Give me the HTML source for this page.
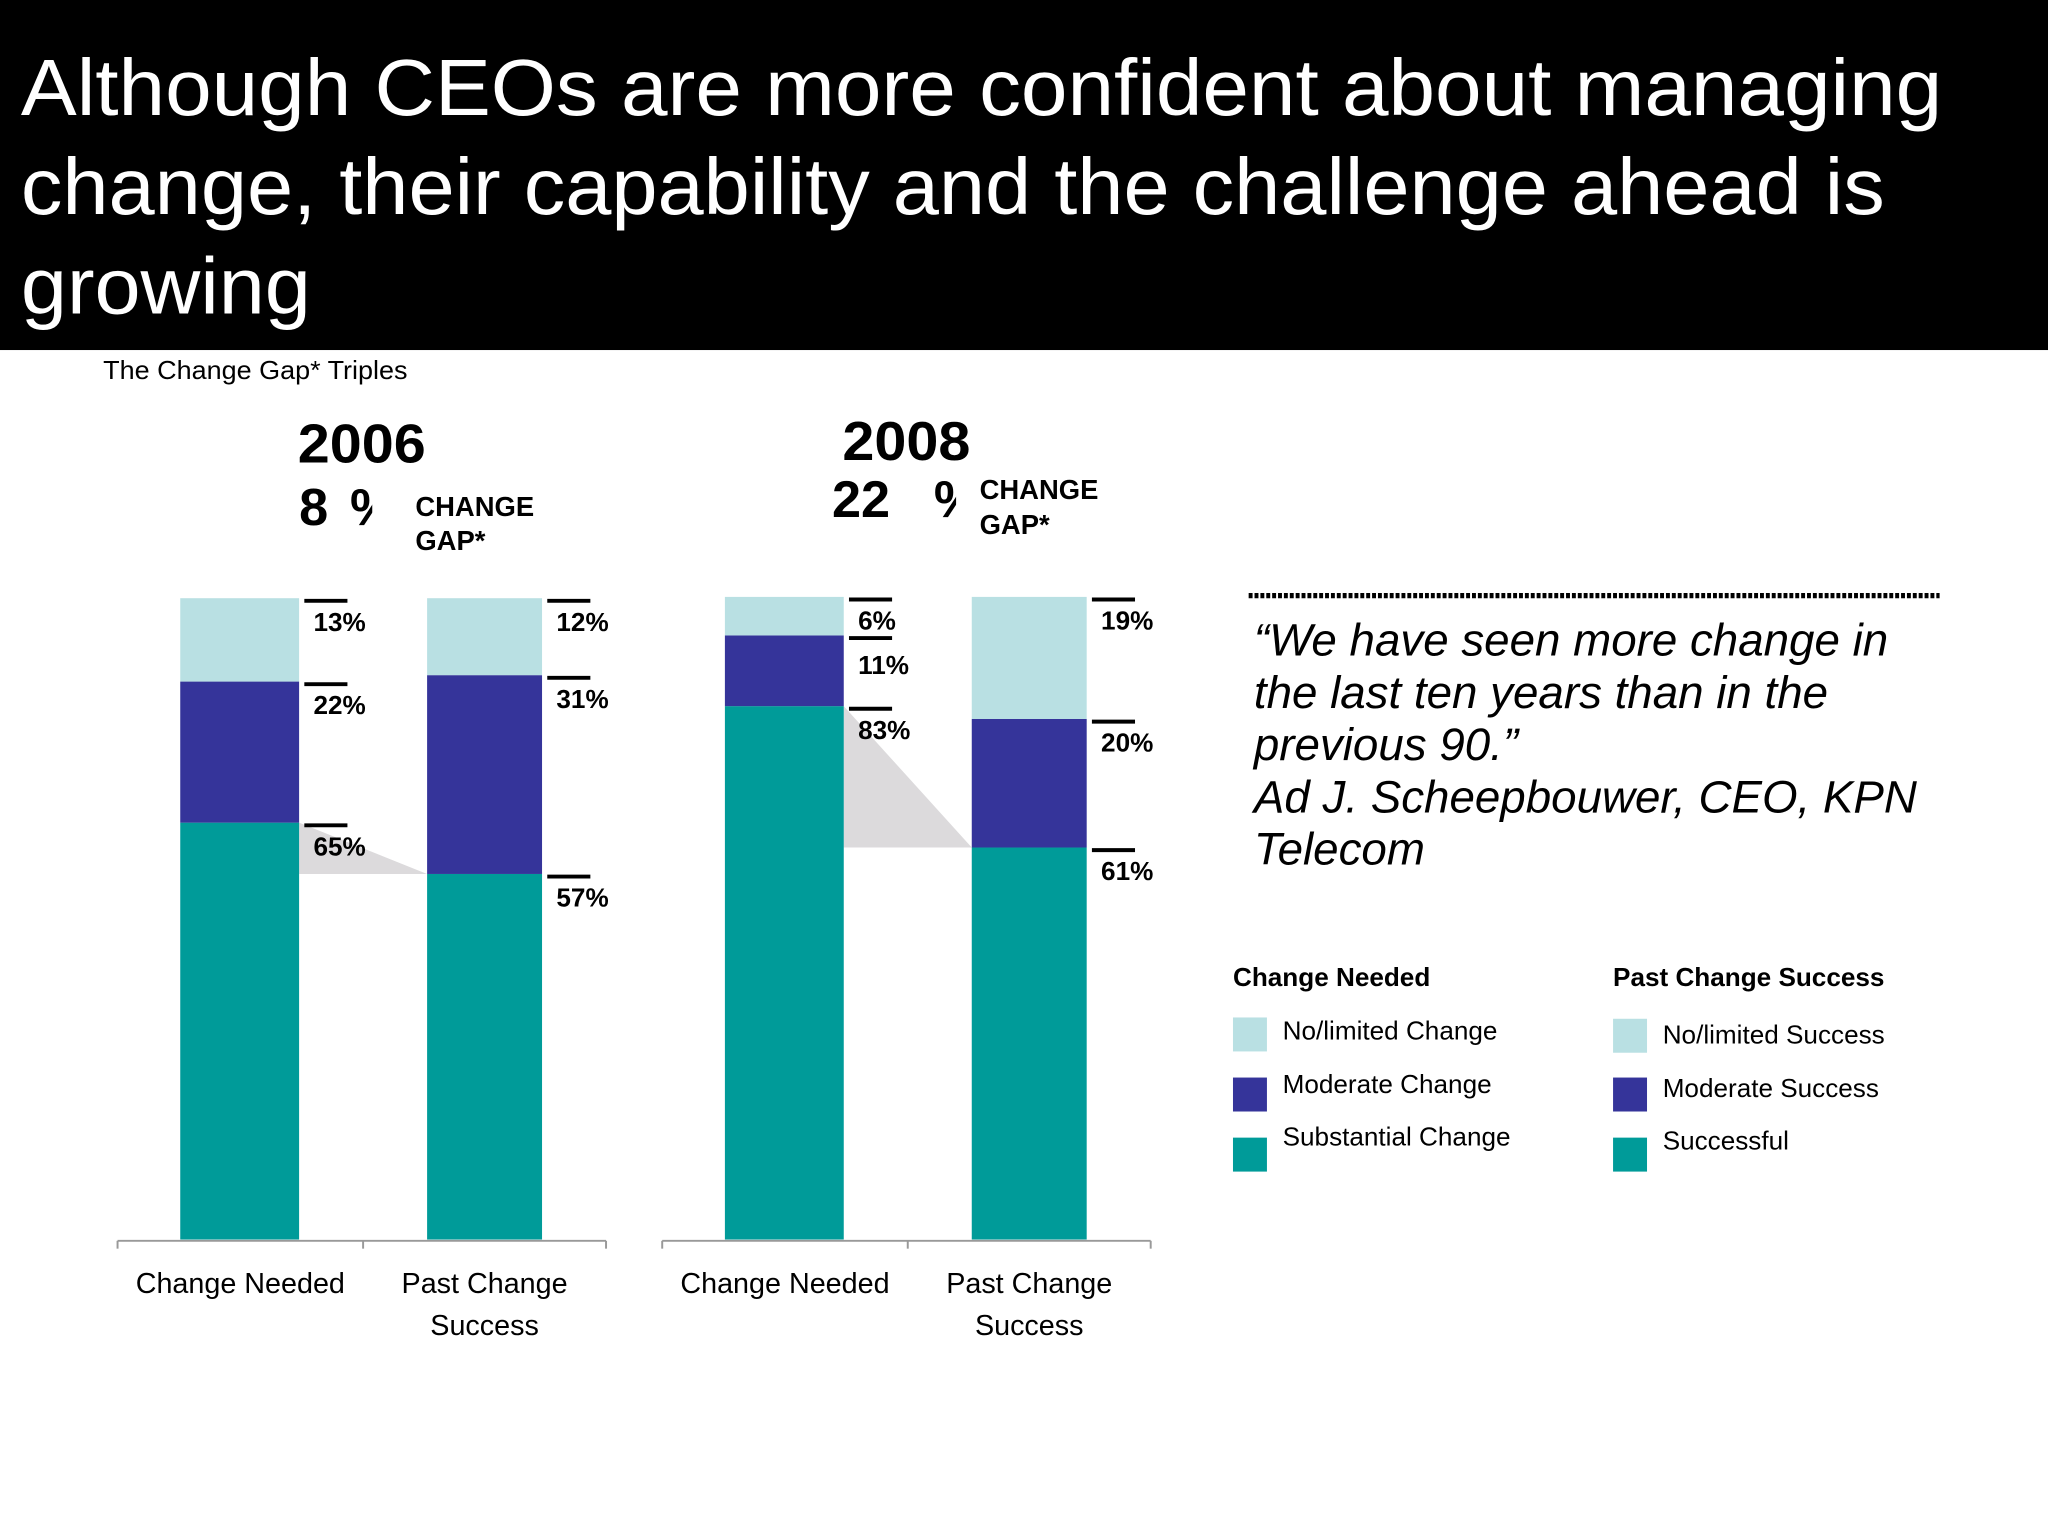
<!DOCTYPE html>
<html><head><meta charset="utf-8"><style>
html,body{margin:0;padding:0;background:#fff;}
svg{display:block;font-family:"Liberation Sans",Arial,sans-serif;}
</style></head><body>
<svg id="chart" width="2048" height="1536" viewBox="0 0 1568 1176" xmlns="http://www.w3.org/2000/svg">
<rect x="0" y="0" width="1568" height="1176" fill="#fff"/>
<rect x="0" y="0" width="1568" height="268" fill="#000"/>
<g fill="#fff" font-size="61">
<text x="16" y="88" textLength="1471" lengthAdjust="spacingAndGlyphs">Although CEOs are more confident about managing</text>
<text x="16" y="164" textLength="1427" lengthAdjust="spacingAndGlyphs">change, their capability and the challenge ahead is</text>
<text x="16" y="240" textLength="222" lengthAdjust="spacingAndGlyphs">growing</text>
</g>
<text x="79" y="290" font-size="20" textLength="233" lengthAdjust="spacingAndGlyphs">The Change Gap* Triples</text>

<g font-weight="bold">
<text x="228" y="354" font-size="42" textLength="98" lengthAdjust="spacingAndGlyphs">2006</text>
<text x="229" y="402" font-size="40">8</text>
<svg x="268" y="360" width="17" height="50" overflow="hidden"><text x="0" y="42" font-size="40">%</text></svg>
<text x="318" y="395" font-size="21">CHANGE</text>
<text x="318" y="421" font-size="21">GAP*</text>
</g>
<g font-weight="bold">
<text x="645" y="352" font-size="42" textLength="98" lengthAdjust="spacingAndGlyphs">2008</text>
<text x="637" y="396" font-size="40">22</text>
<svg x="715" y="354" width="17" height="54" overflow="hidden"><text x="0" y="42" font-size="40">%</text></svg>
<text x="750" y="382" font-size="21">CHANGE</text>
<text x="750" y="409" font-size="21">GAP*</text>
</g>

<g id="bars"></g>

<line x1="956" y1="456" x2="1485" y2="456" stroke="#000" stroke-width="4" stroke-dasharray="3,1.5"/>
<g font-style="italic" font-size="35">
<text x="960" y="502">“We have seen more change in</text>
<text x="960" y="542">the last ten years than in the</text>
<text x="960" y="582">previous 90.”</text>
<text x="960" y="622">Ad J. Scheepbouwer, CEO, KPN</text>
<text x="960" y="662">Telecom</text>
</g>

<g font-size="20">
<text x="944" y="755" font-weight="bold">Change Needed</text>
<text x="1235" y="755" font-weight="bold">Past Change Success</text>
<rect x="944" y="779" width="26" height="26" fill="#b9e0e3"/>
<text x="982" y="796">No/limited Change</text>
<rect x="944" y="825" width="26" height="26" fill="#35349a"/>
<text x="982" y="837">Moderate Change</text>
<rect x="944" y="871" width="26" height="26" fill="#009b99"/>
<text x="982" y="877">Substantial Change</text>
<rect x="1235" y="780" width="26" height="26" fill="#b9e0e3"/>
<text x="1273" y="799">No/limited Success</text>
<rect x="1235" y="825" width="26" height="26" fill="#35349a"/>
<text x="1273" y="840">Moderate Success</text>
<rect x="1235" y="871" width="26" height="26" fill="#009b99"/>
<text x="1273" y="880">Successful</text>
</g>
</svg>
<script>
// data
const years = ["2006", "2008"];
const categories = ["Change Needed", "Past Change Success"];
const substantial2006 = [65, 57];
const moderate2006 = [22, 31];
const limited2006 = [13, 12];
const substantial2008 = [83, 61];
const moderate2008 = [11, 20];
const limited2008 = [6, 19];

const NS = "http://www.w3.org/2000/svg";
const g = document.getElementById("bars");
const colors = ["#009b99", "#35349a", "#b9e0e3"];
const segNames = ["substantial", "moderate", "limited"];
const panels = [
  {axisX: 90, vals: [substantial2006, moderate2006, limited2006], base: 949, top: 458},
  {axisX: 507, vals: [substantial2008, moderate2008, limited2008], base: 949, top: 457}
];
function mk(tag, attrs) {
  const e = document.createElementNS(NS, tag);
  for (const k in attrs) e.setAttribute(k, attrs[k]);
  g.appendChild(e);
  return e;
}
panels.forEach((p, pi) => {
  const yScale = v => p.base - (v / 100) * (p.base - p.top);
  const barX = [p.axisX + 48, p.axisX + 237];
  const barW = [91, 88];
  const sN = p.vals[0][0], sP = p.vals[0][1];
  const poly = mk("polygon", {points: `${barX[0]+barW[0]},${yScale(sN)} ${barX[1]},${yScale(sP)} ${barX[0]+barW[0]},${yScale(sP)}`, fill: "#dcdadc"});
  
  
  categories.forEach((c, ci) => {
    let cum = 0;
    const labelPos = [];
    for (let s = 0; s < 3; s++) {
      const v = p.vals[s][ci];
      const y1 = yScale(cum + v), y0 = yScale(cum);
      const r = mk("rect", {x: barX[ci], y: y1, width: barW[ci], height: y0 - y1, fill: colors[s]});
      
      
      labelPos.push([y1, v]);
      cum += v;
    }
    let lastLabelY = -1e9;
    for (let s = 2; s >= 0; s--) {
      const [y1, v] = labelPos[s];
      const lx = barX[ci] + barW[ci] + 4;
      const tick = mk("line", {x1: lx, x2: lx + 33, y1: y1 + 2, y2: y1 + 2, stroke: "#000", "stroke-width": 3});
      
      
      let ty = Math.max(y1 + 25, lastLabelY + 34);
      lastLabelY = ty;
      const t = mk("text", {x: lx + 7, y: ty, "font-size": 20, "font-weight": "bold"});
      t.textContent = v + "%";
      
      
    }
  });
  const ax = mk("line", {x1: p.axisX, x2: p.axisX + 374, y1: p.base + 1, y2: p.base + 1, stroke: "#999", "stroke-width": 1.5});
  
  
  [0, 188, 374].forEach(dx => {
    const tk = mk("line", {x1: p.axisX + dx, x2: p.axisX + dx, y1: p.base + 1, y2: p.base + 7, stroke: "#999", "stroke-width": 1.5});
    
    
  });
  const l1 = mk("text", {x: p.axisX + 94, y: 990, "font-size": 22, "text-anchor": "middle"});
  l1.textContent = categories[0];
  
  
  const l2 = mk("text", {x: p.axisX + 281, y: 990, "font-size": 22, "text-anchor": "middle"});
  l2.textContent = "Past Change";
  
  
  const l3 = mk("text", {x: p.axisX + 281, y: 1022, "font-size": 22, "text-anchor": "middle"});
  l3.textContent = "Success";
  
  
});
</script>
</body></html>
